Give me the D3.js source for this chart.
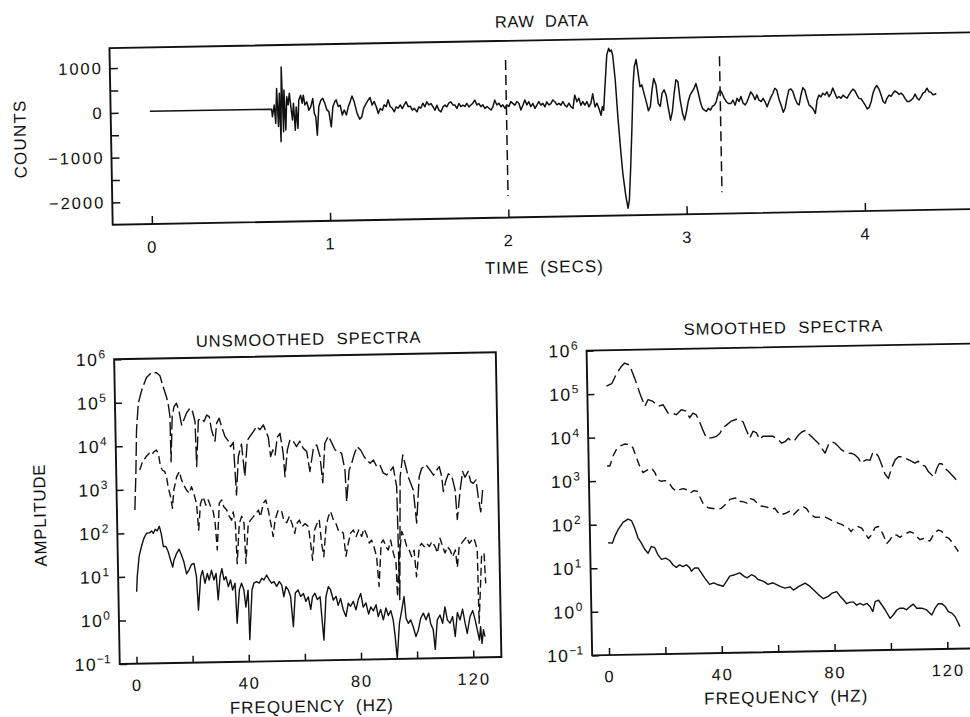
<!DOCTYPE html>
<html>
<head>
<meta charset="utf-8">
<script src="https://cdn.jsdelivr.net/npm/d3@7"></script>
<style>
  html, body { margin: 0; padding: 0; background: #fff; }
  svg { display: block; font-family: "Liberation Sans", Arial, Helvetica, sans-serif; }
</style>
</head>
<body>
<script>
// ---------------- DATA ----------------
const titles = ["RAW DATA", "UNSMOOTHED SPECTRA", "SMOOTHED SPECTRA"];
const timeTicks = [0, 1, 2, 3, 4];
const countTicks = [1000, 500, 0, -500, -1000, -1500, -2000];
const countLabels = [1000, 0, -1000, -2000];
const freqTicks = [0, 20, 40, 60, 80, 100, 120];
const freqLabels = [0, 40, 80, 120];
const ampTicks = [1e-1, 1e0, 1e1, 1e2, 1e3, 1e4, 1e5, 1e6];
const ampExponents = ["\u22121", "0", "1", "2", "3", "4", "5", "6"];
const markerTimes = [2.0, 3.2];
const markerCountRange = [-2020, 1020];

// raw seismogram: [time (s), counts]
const rawSamples = [
[0,20],[0.683,20],[0.687,-150],[0.698,110],[0.705,-300],[0.713,480],[0.720,-370],[0.728,370],[0.733,-710],[0.741,960],
[0.748,-490],[0.754,440],[0.761,-450],[0.769,290],[0.776,110],[0.784,370],[0.791,70],[0.799,-230],[0.806,140],[0.814,-460],
[0.821,60],[0.829,-420],[0.836,210],[0.847,320],[0.855,140],[0.862,320],[0.870,100],[0.881,170],[0.892,-20],[0.903,60],
[0.915,240],[0.922,-90],[0.930,-170],[0.937,-580],[0.948,60],[0.960,200],[0.971,240],[0.982,130],[0.993,-20],[1.004,-60],
[1.016,-400],[1.027,50],[1.038,160],[1.046,200],[1.057,50],[1.068,80],[1.079,-140],[1.090,-30],[1.102,-140],[1.113,40],
[1.124,150],[1.135,280],[1.147,150],[1.162,-110],[1.176,-240],[1.188,-190],[1.199,0],[1.214,110],[1.225,180],[1.236,240],
[1.247,70],[1.259,150],[1.270,30],[1.281,-120],[1.292,-10],[1.304,-50],[1.315,70],[1.326,30],[1.337,180],[1.348,30],
[1.360,-10],[1.371,-90],[1.382,20],[1.393,-10],[1.405,60],[1.416,-20],[1.427,60],[1.438,130],[1.449,20],[1.461,30],
[1.472,-60],[1.483,-20],[1.498,-100],[1.509,10],[1.520,-20],[1.532,90],[1.543,10],[1.554,120],[1.565,50],[1.577,80],
[1.588,10],[1.599,-70],[1.610,40],[1.621,-70],[1.633,-110],[1.644,0],[1.655,40],[1.666,0],[1.677,80],[1.689,110],
[1.700,40],[1.711,40],[1.722,-40],[1.734,70],[1.745,0],[1.756,30],[1.767,0],[1.778,70],[1.790,-10],[1.801,30],
[1.812,70],[1.823,140],[1.835,30],[1.846,60],[1.857,-10],[1.868,30],[1.879,-50],[1.891,-10],[1.902,-50],[1.913,-90],
[1.924,-20],[1.935,130],[1.947,20],[1.958,60],[1.969,-20],[1.980,20],[1.992,-60],[2.003,20],[2.014,-20],[2.025,90],
[2.036,50],[2.048,10],[2.059,90],[2.070,50],[2.081,-100],[2.093,10],[2.104,120],[2.115,10],[2.126,80],[2.137,-30],
[2.149,40],[2.160,-70],[2.171,0],[2.182,80],[2.194,0],[2.205,40],[2.216,-40],[2.227,70],[2.238,0],[2.250,30],
[2.261,110],[2.272,70],[2.283,0],[2.295,30],[2.306,-10],[2.317,70],[2.328,-10],[2.339,-50],[2.351,30],[2.362,-50],
[2.373,-90],[2.384,210],[2.396,60],[2.407,140],[2.418,-20],[2.429,60],[2.440,-20],[2.452,60],[2.463,-60],[2.474,20],
[2.485,230],[2.497,-60],[2.508,20],[2.519,-100],[2.530,-250],[2.538,-60],[2.545,-140],[2.556,460],[2.568,1090],[2.579,1240],
[2.586,1170],[2.594,1200],[2.601,1090],[2.613,530],[2.624,-290],[2.635,-960],[2.646,-1560],[2.661,-2080],[2.672,-2340],[2.680,-2160],
[2.691,-1410],[2.702,-520],[2.713,450],[2.721,820],[2.732,980],[2.740,740],[2.751,370],[2.762,410],[2.773,220],[2.785,30],
[2.796,-170],[2.807,-80],[2.818,290],[2.829,550],[2.841,400],[2.852,-10],[2.863,-80],[2.874,210],[2.886,290],[2.897,170],
[2.908,-120],[2.919,-390],[2.930,-200],[2.942,210],[2.953,510],[2.964,470],[2.975,60],[2.987,-240],[2.998,-390],[3.009,-210],
[3.020,20],[3.031,160],[3.043,240],[3.054,310],[3.065,420],[3.076,240],[3.088,10],[3.099,-140],[3.110,-180],[3.121,-210],
[3.132,-140],[3.144,-180],[3.155,-100],[3.166,-70],[3.177,0],[3.189,190],[3.200,260],[3.211,190],[3.222,80],[3.234,0],
[3.245,-40],[3.260,-40],[3.271,30],[3.283,-80],[3.294,70],[3.305,0],[3.316,110],[3.328,-40],[3.339,-80],[3.350,-10],
[3.361,100],[3.372,210],[3.384,140],[3.395,30],[3.406,140],[3.417,20],[3.429,-10],[3.440,60],[3.451,-20],[3.462,-130],
[3.473,-20],[3.485,90],[3.496,170],[3.507,280],[3.518,240],[3.530,20],[3.541,-100],[3.552,-260],[3.563,-170],[3.574,50],
[3.586,240],[3.597,260],[3.608,200],[3.619,50],[3.631,-70],[3.642,-100],[3.653,120],[3.664,280],[3.675,230],[3.687,40],
[3.698,-110],[3.709,-150],[3.720,-200],[3.732,-300],[3.743,0],[3.754,110],[3.765,70],[3.776,150],[3.788,110],[3.799,180],
[3.810,70],[3.821,140],[3.832,260],[3.844,140],[3.855,30],[3.866,70],[3.877,30],[3.889,100],[3.900,60],[3.911,30],
[3.922,100],[3.933,170],[3.945,230],[3.956,190],[3.967,100],[3.978,20],[3.990,10],[4.001,-60],[4.012,-130],[4.023,-220],
[4.034,-190],[4.046,-60],[4.057,130],[4.068,240],[4.079,300],[4.091,220],[4.102,90],[4.113,-60],[4.124,-100],[4.135,10],
[4.147,80],[4.158,50],[4.169,120],[4.180,170],[4.192,140],[4.203,90],[4.214,120],[4.225,80],[4.236,0],[4.248,-70],
[4.259,-70],[4.270,-40],[4.281,0],[4.293,90],[4.304,0],[4.315,-40],[4.326,30],[4.337,110],[4.349,140],[4.360,220],
[4.371,140],[4.382,130],[4.393,70],[4.405,80],[4.412,100]
];

// unsmoothed spectra: [frequency (Hz), amplitude]
const unsmoothedTop = [
[0.4,340],[1.0,2400],[1.5,23000],[2.3,95000],[3.6,190000],[5.4,370000],[7.2,480000],[9.0,470000],[10.2,400000],[11.3,220000],
[12.4,130000],[13.0,85000],[13.5,46000],[13.6,4200],[14.3,46000],[15.0,77000],[15.9,92000],[16.8,59000],[17.6,29000],[18.2,35000],
[19.4,54000],[20.7,70000],[21.6,58000],[22.4,34000],[22.7,3200],[23.6,37000],[24.8,40000],[25.6,34000],[26.6,48000],[27.5,44000],
[28.2,22000],[29.4,12000],[30.1,31000],[31.0,40000],[31.8,26000],[33.0,15000],[34.1,12000],[34.9,8800],[35.9,11000],[36.7,680],
[37.6,5200],[38.8,10000],[39.8,1800],[40.9,12000],[41.9,15000],[43.1,19000],[44.3,25000],[45.5,21000],[46.7,27000],[47.6,19000],
[48.4,14000],[49.1,5000],[49.9,7100],[50.7,5400],[51.6,14000],[52.6,17000],[53.6,5900],[54.1,1700],[55.1,7000],[56.1,12000],
[57.3,11000],[58.4,8300],[59.6,11000],[60.8,7500],[62.0,6300],[63.0,2200],[64.4,7500],[65.6,8900],[66.7,4800],[67.5,1200],
[68.5,9600],[69.8,14000],[70.9,10000],[72.1,6700],[73.2,6100],[74.4,5600],[75.5,2300],[75.9,430],[77.0,2300],[77.9,3200],
[78.8,5000],[80.0,7800],[81.2,6500],[82.4,4600],[83.3,3800],[84.5,3200],[85.7,3800],[86.8,2700],[88.0,2900],[89.1,1900],
[90.3,1700],[91.5,2000],[92.7,2600],[93.8,910],[94.2,2.3],[95.1,1500],[96.2,4800],[96.9,3100],[98.0,1500],[99.7,750],
[100.7,130],[101.9,1500],[102.8,2300],[104.4,2800],[105.8,2100],[107.0,1600],[108.2,2100],[109.1,2500],[109.9,1500],[110.4,670],
[111.4,1200],[112.3,1700],[113.5,1500],[114.6,720],[115.2,150],[116.4,710],[117.4,1900],[118.2,1400],[119.4,1900],[120.2,1100],
[121.1,1000],[122.1,1200],[122.8,490],[123.6,220],[124.4,700],[124.9,830]
];
const unsmoothedMiddle = [
[2.4,2800],[3.4,4300],[4.7,5600],[5.9,6700],[6.7,6100],[7.6,7300],[8.5,7900],[9.2,6100],[9.8,3300],[10.5,2700],
[11.3,2500],[11.9,1900],[12.4,1100],[13.2,660],[13.8,360],[14.4,940],[15.5,1900],[16.5,2500],[17.2,1600],[18.0,1200],
[18.9,930],[19.9,780],[20.7,1100],[21.5,770],[22.4,450],[23.0,110],[23.8,450],[24.8,640],[25.7,410],[26.6,540],
[27.4,380],[28.3,290],[28.9,160],[29.5,38],[30.5,450],[31.4,530],[32.1,370],[33.1,310],[34.0,220],[34.8,180],
[35.4,280],[36.1,150],[36.5,18],[37.5,150],[38.4,220],[39.2,150],[39.6,18],[40.7,150],[41.6,180],[42.5,210],
[43.5,250],[44.4,300],[45.1,210],[46.2,430],[47.1,510],[47.9,300],[48.7,150],[49.5,73],[50.3,180],[51.5,300],
[52.7,270],[53.4,170],[54.4,150],[55.4,210],[56.3,140],[57.2,85],[57.9,140],[58.9,170],[59.8,120],[60.9,140],
[62.1,120],[62.8,49],[63.4,20],[64.3,99],[65.0,130],[66.0,170],[66.7,49],[67.4,24],[68.4,120],[69.3,200],
[70.1,260],[71.0,170],[71.9,140],[72.7,97],[73.6,97],[74.5,81],[75.3,24],[76.2,48],[77.1,81],[78.1,96],
[79.0,67],[80.0,95],[81.0,67],[81.9,100],[82.8,73],[83.7,47],[84.5,55],[85.3,39],[86.2,23],[86.9,4.7],
[87.9,46],[88.7,55],[89.6,38],[90.4,32],[91.3,54],[92.2,27],[93.1,16],[93.4,2.7],[94.3,22],[95.3,84],
[96.1,64],[97.0,38],[97.9,31],[98.7,22],[99.6,31],[100.3,7.6],[101.5,37],[102.3,44],[103.2,37],[104.1,44],
[105.1,37],[106.0,48],[107.1,37],[107.9,26],[108.9,57],[109.8,36],[110.6,26],[111.5,36],[112.4,30],[113.3,21],
[114.3,30],[114.9,12],[115.7,36],[116.6,43],[117.5,51],[118.4,60],[119.3,42],[120.2,50],[121.0,55],[121.7,38],
[122.1,30],[122.3,0.61],[123.6,21],[124.5,25],[124.9,5.0]
];
const unsmoothedBottom = [
[0.5,4.5],[0.8,10],[1.6,29],[2.5,49],[3.4,75],[4.4,98],[5.4,100],[6.2,110],[6.8,97],[7.5,120],
[8.2,110],[9.0,140],[9.6,97],[10.3,48],[11.2,48],[12.0,36],[12.8,23],[13.5,16],[14.0,23],[15.0,33],
[15.9,41],[16.7,30],[17.5,21],[18.4,11],[19.4,14],[20.2,18],[21.1,19],[21.9,9.4],[22.4,1.6],[23.4,9.4],
[24.1,13],[24.9,6.6],[25.8,11],[26.4,7.8],[27.3,13],[28.1,7.8],[28.9,11],[29.5,2.7],[30.3,9.2],[31.0,14],
[31.7,7.7],[32.4,9.2],[33.2,5.4],[34.0,7.7],[34.7,4.5],[35.6,6.4],[36.1,0.77],[37.1,4.5],[37.9,6.4],[38.7,4.5],
[39.3,1.8],[40.2,4.4],[40.5,0.32],[41.6,4.4],[42.3,6.3],[43.3,6.8],[44.2,6.3],[45.2,8.1],[45.9,7.4],[46.9,9.6],
[47.8,7.4],[48.6,6.2],[49.5,6.7],[50.4,5.2],[51.4,6.7],[52.2,5.6],[52.9,3.0],[53.7,5.1],[54.5,4.3],[55.3,3.0],
[56.1,0.61],[57.0,3.6],[58.0,4.2],[58.9,3.0],[59.9,3.5],[60.7,2.3],[61.6,2.9],[62.4,1.5],[63.1,2.9],[64.0,3.5],
[64.8,2.5],[65.8,2.9],[66.3,1.0],[66.9,0.29],[67.9,2.9],[68.8,4.9],[69.6,4.1],[70.5,2.4],[71.5,2.9],[72.2,1.8],
[73.1,2.6],[74.0,1.4],[74.9,0.99],[75.8,2.0],[76.6,1.7],[77.6,2.2],[78.5,1.4],[79.4,2.4],[80.3,3.3],[81.1,1.6],
[82.1,2.0],[83.0,1.1],[83.8,1.6],[84.7,1.3],[85.7,1.8],[86.4,0.96],[87.3,1.4],[88.2,0.80],[89.2,1.5],[90.0,1.0],
[90.9,1.3],[91.7,0.79],[92.3,0.33],[92.9,0.1],[93.9,0.66],[94.8,1.3],[95.7,2.7],[96.3,0.85],[97.1,0.65],[97.9,0.78],
[98.8,0.54],[99.7,0.32],[100.6,0.45],[101.5,0.84],[102.5,1.1],[103.4,0.77],[104.4,1.1],[105.0,0.64],[105.9,0.45],[106.5,0.16],
[107.4,0.76],[108.4,0.98],[109.3,0.63],[110.2,1.5],[111.0,0.75],[111.9,0.63],[112.9,0.89],[113.7,0.31],[114.6,1.1],[115.5,0.74],
[116.5,1.3],[117.3,0.62],[118.0,0.36],[119.1,0.88],[120.1,1.2],[120.9,0.73],[121.6,0.43],[122.3,0.25],[122.8,0.51],[123.2,0.21],
[123.8,0.43],[124.3,0.30]
];

// smoothed spectra: [frequency (Hz), amplitude]
const smoothedTop = [
[0.8,150000],[2.7,170000],[4.5,290000],[6.0,400000],[7.4,500000],[9.1,450000],[10.9,220000],[12.6,100000],[14.3,50000],[15.5,71000],
[17.2,64000],[19.0,49000],[20.8,53000],[22.5,34000],[23.7,34000],[25.4,31000],[27.2,40000],[29.0,37000],[30.1,26000],[31.3,33000],
[32.5,30000],[33.7,20000],[34.8,13000],[35.9,8800],[37.7,8800],[39.5,9500],[40.7,11000],[41.9,15000],[43.1,17000],[44.9,21000],
[46.7,23000],[47.9,22000],[49.0,20000],[50.1,13000],[51.3,8400],[52.5,12000],[53.7,11000],[54.8,7700],[56.0,9100],[57.8,9100],
[59.6,9000],[61.4,7400],[62.6,6200],[63.8,6700],[65.0,8000],[66.2,6700],[67.3,7300],[68.6,9400],[69.8,11000],[71.2,12000],
[72.1,10000],[73.3,8500],[74.4,7100],[75.6,6000],[76.7,4600],[77.9,3500],[79.1,5400],[80.3,6400],[81.5,5900],[82.7,4900],
[83.8,4100],[85.0,3700],[86.2,3400],[87.3,3400],[88.5,3100],[89.7,2600],[90.6,2000],[91.4,2200],[92.6,2400],[93.8,2300],
[94.7,3300],[95.6,3600],[96.8,2800],[97.9,1800],[99.0,1100],[100.2,870],[101.4,1500],[102.7,2300],[103.9,2700],[105.1,2700],
[106.2,2500],[107.4,2300],[108.6,2100],[109.7,1900],[110.9,2100],[112.1,1700],[113.3,1600],[114.4,1200],[115.6,1000],[116.5,910],
[117.4,1400],[118.3,1800],[119.2,1800],[120.3,1400],[121.5,1200],[122.7,980],[123.8,820],[125.0,630]
];
const smoothedMiddle = [
[0.5,2200],[1.5,2200],[2.7,3700],[3.9,5200],[5.1,6200],[6.9,6900],[8.7,6700],[9.8,5600],[11.0,3300],[12.1,2100],
[13.2,1500],[14.7,1700],[16.2,1900],[17.4,1500],[18.5,1000],[19.7,930],[20.9,960],[22.4,850],[23.5,650],[24.9,540],
[26.1,590],[27.3,620],[28.7,580],[29.9,490],[31.1,550],[32.3,530],[33.4,370],[34.5,260],[36.1,220],[37.8,210],
[39.6,200],[40.8,210],[42.3,260],[43.8,330],[45.0,350],[46.4,360],[47.3,300],[48.7,290],[49.9,270],[51.1,340],
[52.3,320],[53.5,270],[54.6,230],[56.2,220],[57.3,210],[58.5,190],[59.7,200],[61.5,140],[63.3,150],[65.1,170],
[66.3,140],[68.1,180],[69.9,210],[71.0,190],[72.2,140],[73.9,120],[75.7,120],[77.5,120],[78.7,110],[79.8,100],
[81.0,93],[82.2,85],[83.3,80],[84.5,71],[85.7,65],[86.6,54],[87.8,67],[89.2,70],[90.4,64],[91.6,49],
[92.7,37],[93.9,45],[95.1,65],[96.3,69],[97.2,57],[98.0,44],[99.2,28],[100.4,34],[101.6,44],[102.8,43],
[103.9,38],[105.1,43],[106.3,47],[107.5,51],[108.7,47],[109.9,39],[111.0,33],[112.2,35],[113.4,31],[114.6,31],
[116.1,46],[117.6,54],[118.8,50],[119.9,38],[121.1,35],[122.2,29],[123.4,22],[124.5,17]
];
const smoothedBottom = [
[0.4,38],[1.9,37],[2.8,53],[4.0,75],[5.8,110],[7.6,130],[8.8,120],[9.9,81],[11.0,48],[12.2,36],
[13.3,26],[14.5,21],[15.7,30],[16.9,28],[18.0,19],[19.2,15],[20.7,16],[22.1,14],[23.3,11],[24.4,9.7],
[25.6,11],[26.8,10],[28.0,11],[29.2,9.3],[29.7,7.8],[30.9,9.2],[32.1,9.2],[33.3,7.0],[34.4,5.4],[36.1,3.8],
[37.6,4.1],[39.1,3.7],[40.9,3.4],[42.1,4.4],[43.3,5.8],[45.1,6.2],[46.9,6.8],[48.3,5.7],[49.4,5.2],[51.0,6.1],
[52.2,5.6],[53.3,4.7],[55.1,4.3],[56.8,3.6],[58.6,3.9],[61.1,3.2],[62.8,2.9],[64.6,3.1],[65.8,2.6],[67.6,3.1],
[70.0,3.7],[71.7,3.1],[72.9,2.6],[74.6,2.0],[76.4,1.6],[78.1,1.8],[79.3,2.1],[81.1,2.3],[82.3,1.8],[83.4,1.5],
[84.6,1.2],[85.8,1.3],[87.0,1.3],[88.1,1.1],[89.3,1.2],[90.5,1.1],[91.7,1.2],[92.9,1.0],[93.8,0.77],[94.7,1.3],
[95.9,1.4],[97.0,1.1],[98.2,0.83],[99.9,0.53],[101.1,0.64],[102.3,0.82],[103.5,0.90],[104.7,0.90],[105.8,0.82],[107.0,0.97],
[108.2,1.1],[109.4,0.88],[111.2,0.88],[112.9,0.80],[114.7,0.61],[115.9,0.87],[117.1,1.1],[118.3,1.1],[119.5,0.94],[120.6,0.72],
[121.8,0.66],[122.9,0.55],[123.8,0.42],[124.6,0.32]
];

// ---------------- DRAWING ----------------
const W = 970, H = 717;
const INK = "#111";
const svg = d3.select("body").append("svg").attr("width", W).attr("height", H);
svg.append("rect").attr("width", W).attr("height", H).attr("fill", "#fff");
// the printed figure sits slightly tilted on the page
const root = svg.append("g").attr("transform", "rotate(-1.05 485 358)");

function label(g, x, y, s, o = {}) {
  const t = g.append("text").attr("x", x).attr("y", y).text(s)
    .attr("fill", INK).attr("font-size", o.size || 16.5)
    .attr("text-anchor", o.anchor || "middle")
    .attr("letter-spacing", o.ls != null ? o.ls : 1)
    .attr("word-spacing", o.ws != null ? o.ws : 5);
  if (o.rotate) t.attr("transform", `rotate(${o.rotate} ${x} ${y})`);
  return t;
}
function styleAxis(g) {
  g.select(".domain").remove();
  g.selectAll(".tick line").attr("stroke", INK).attr("stroke-width", 1.5);
  g.selectAll(".tick text").attr("fill", INK).attr("font-size", 16.5)
    .attr("letter-spacing", 2).attr("font-family", "Liberation Sans, Arial, sans-serif");
}

// ---- top panel: raw data ----
const xT = d3.scaleLinear().domain([-0.22, 4.7]).range([115.2, 992.4]);
const yT = d3.scaleLinear().domain([-2500, 1450]).range([218, 41.3]);
const rawG = root.append("g");

rawG.append("g").attr("transform", `translate(0,${yT(-2500)})`)
  .call(d3.axisBottom(xT).tickValues(timeTicks).tickSize(-8).tickPadding(17).tickFormat(d3.format("d")))
  .call(styleAxis);
rawG.append("g").attr("transform", `translate(${xT(-0.22)},0)`)
  .call(d3.axisLeft(yT).tickValues(countTicks).tickSize(-8).tickPadding(7)
    .tickFormat(d => countLabels.includes(d) ? d3.format("d")(d) : ""))
  .call(styleAxis);

rawG.append("rect").attr("x", xT(-0.22)).attr("y", yT(1450))
  .attr("width", xT(4.7) - xT(-0.22)).attr("height", yT(-2500) - yT(1450))
  .attr("fill", "none").attr("stroke", INK).attr("stroke-width", 1.9);

rawG.selectAll("line.marker").data(markerTimes).join("line").attr("class", "marker")
  .attr("x1", d => xT(d)).attr("x2", d => xT(d))
  .attr("y1", yT(markerCountRange[1])).attr("y2", yT(markerCountRange[0]))
  .attr("stroke", INK).attr("stroke-width", 1.5).attr("stroke-dasharray", "10,5");

rawG.append("path").datum(rawSamples)
  .attr("d", d3.line().x(d => xT(d[0])).y(d => yT(d[1])))
  .attr("fill", "none").attr("stroke", INK).attr("stroke-width", 1.5).attr("stroke-linejoin", "round");

label(rawG, 548, 28, titles[0], { ls: 0.6, ws: 5 });
label(rawG, 546, 274, "TIME (SECS)", { ls: 1, ws: 5, size: 17 });
label(rawG, 30, 130.5, "COUNTS", { ls: 1.2, size: 17, rotate: -90 });

// ---- spectra panels ----
const yA = d3.scaleLog().domain([0.1, 1e6]).range([657.3, 352.5]);

function spectraPanel(xScale, title, titlePos, xlabPos, curves) {
  const g = root.append("g");
  const [f0, f1] = xScale.domain();
  g.append("g").attr("transform", `translate(0,${yA(0.1)})`)
    .call(d3.axisBottom(xScale).tickValues(freqTicks).tickSize(-7).tickPadding(15.5)
      .tickFormat(d => freqLabels.includes(d) ? d3.format("d")(d) : ""))
    .call(styleAxis);
  const ya = g.append("g").attr("transform", `translate(${xScale(f0)},0)`)
    .call(d3.axisLeft(yA).tickValues(ampTicks).tickSize(-7).tickPadding(9).tickFormat(() => ""))
    .call(styleAxis);
  ya.selectAll(".tick text").each(function(d, i) {
    const t = d3.select(this).attr("letter-spacing", 1.5).attr("font-size", 17.5);
    t.append("tspan").text("10");
    t.append("tspan").text(ampExponents[i]).attr("font-size", 12).attr("dy", "-0.6em").attr("letter-spacing", 0);
  });

  g.append("rect").attr("x", xScale(f0)).attr("y", yA(1e6))
    .attr("width", xScale(f1) - xScale(f0)).attr("height", yA(0.1) - yA(1e6))
    .attr("fill", "none").attr("stroke", INK).attr("stroke-width", 1.9);

  const line = d3.line().x(d => xScale(d[0])).y(d => yA(d[1]));
  curves.forEach(c => {
    g.append("path").datum(c.data).attr("d", line)
      .attr("fill", "none").attr("stroke", INK).attr("stroke-width", 1.4)
      .attr("stroke-linejoin", "round")
      .attr("stroke-dasharray", c.dash || null);
  });

  label(g, titlePos[0], titlePos[1], title, { ls: 1, ws: 6 });
  label(g, xlabPos[0], xlabPos[1], "FREQUENCY (HZ)", { ls: 1, ws: 5, size: 17 });
  return g;
}

const xL = d3.scaleLinear().domain([-6, 130]).range([114.2, 495.9]);
const xR = d3.scaleLinear().domain([-6, 131]).range([586.7, 973]);

spectraPanel(xL, titles[1], [309, 341.6], [305.5, 709], [
  { data: unsmoothedTop, dash: "14,4" },
  { data: unsmoothedMiddle, dash: "8,4" },
  { data: unsmoothedBottom }
]);
spectraPanel(xR, titles[2], [784, 338.7], [780, 708.5], [
  { data: smoothedTop, dash: "15,5" },
  { data: smoothedMiddle, dash: "8,5" },
  { data: smoothedBottom }
]);

label(root, 43, 507, "AMPLITUDE", { ls: 0.6, size: 17, rotate: -90 });
</script>
</body>
</html>
